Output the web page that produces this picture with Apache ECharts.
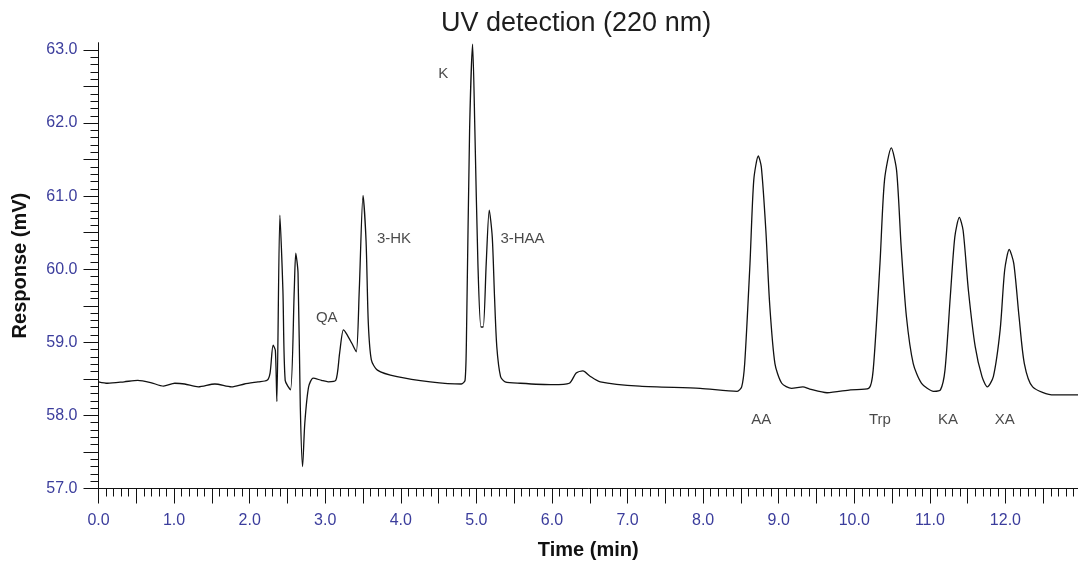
<!DOCTYPE html>
<html>
<head>
<meta charset="utf-8">
<title>UV detection (220 nm)</title>
<script src="https://cdn.jsdelivr.net/npm/echarts@6/dist/echarts.min.js"></script>
<style>
  html, body { margin: 0; padding: 0; background: #fff; }
  #chart { width: 1078px; height: 563px; }
</style>
</head>
<body>
<div id="chart"></div>
<script>
// trace: time (min), response (mV)
const times = [
  0.00, 0.12, 0.34, 0.52, 0.69, 0.86, 1.01, 1.14, 1.32, 1.54, 1.76, 1.93, 2.11, 2.23, 2.27,
  2.31, 2.34, 2.36, 2.40, 2.44, 2.47, 2.54, 2.59, 2.61, 2.64, 2.67, 2.70, 2.73, 2.78, 2.84,
  2.95, 3.04, 3.14, 3.19, 3.24, 3.28, 3.35, 3.41, 3.45, 3.50, 3.54, 3.57, 3.61, 3.69, 3.95,
  4.39, 4.80, 4.85, 4.87, 4.91, 4.95, 4.98, 5.02, 5.06, 5.09, 5.13, 5.17, 5.21, 5.24, 5.27,
  5.32, 5.38, 5.58, 6.01, 6.23, 6.32, 6.41, 6.50, 6.64, 7.16, 7.96, 8.45, 8.51, 8.55, 8.62,
  8.67, 8.73, 8.77, 8.83, 8.88, 8.95, 9.04, 9.17, 9.32, 9.41, 9.64, 9.95, 10.19, 10.25, 10.34,
  10.40, 10.49, 10.56, 10.62, 10.69, 10.78, 10.89, 11.05, 11.14, 11.20, 11.27, 11.33, 11.39, 11.44, 11.51,
  11.60, 11.69, 11.76, 11.84, 11.93, 11.99, 12.05, 12.11, 12.18, 12.25, 12.36, 12.64, 12.96
];
const response = [
  58.46, 58.44, 58.46, 58.48, 58.45, 58.40, 58.44, 58.43, 58.39, 58.43, 58.39, 58.43, 58.46, 58.48, 58.58,
  58.96, 58.89, 58.19, 60.74, 59.71, 58.48, 58.35, 59.71, 60.22, 59.95, 58.12, 57.30, 57.90, 58.39, 58.51,
  58.48, 58.46, 58.48, 58.85, 59.17, 59.12, 58.99, 58.87, 59.71, 61.01, 60.39, 59.26, 58.76, 58.62, 58.53,
  58.46, 58.43, 58.48, 59.17, 61.90, 63.08, 61.90, 60.08, 59.21, 59.21, 60.08, 60.81, 60.44, 59.62, 58.94,
  58.53, 58.46, 58.44, 58.42, 58.44, 58.58, 58.61, 58.54, 58.46, 58.40, 58.37, 58.33, 58.39, 58.71, 60.08,
  61.22, 61.55, 61.40, 60.53, 59.53, 58.71, 58.44, 58.37, 58.39, 58.36, 58.31, 58.35, 58.37, 58.62, 60.08,
  61.22, 61.66, 61.35, 60.31, 59.35, 58.71, 58.44, 58.33, 58.35, 58.62, 59.62, 60.44, 60.71, 60.53, 59.71,
  58.94, 58.53, 58.39, 58.53, 59.17, 59.99, 60.27, 60.08, 59.35, 58.71, 58.39, 58.28, 58.28
];

// peak annotations
const peakNames = ['QA', '3-HK', 'K', '3-HAA', 'AA', 'Trp', 'KA', 'XA'];
const peakLabelTime = [3.02, 3.91, 4.56, 5.61, 8.77, 10.34, 11.24, 11.99];
const peakLabelResp = [59.33, 60.42, 62.68, 60.42, 57.94, 57.94, 57.94, 57.94];

// axis ticks
const xTicks = [0, 0.5, 1, 1.5, 2, 2.5, 3, 3.5, 4, 4.5, 5, 5.5, 6, 6.5, 7, 7.5, 8, 8.5, 9, 9.5, 10, 10.5, 11, 11.5, 12, 12.5];
const xLabels = [0, 1, 2, 3, 4, 5, 6, 7, 8, 9, 10, 11, 12];
const yTicks = [57, 57.5, 58, 58.5, 59, 59.5, 60, 60.5, 61, 61.5, 62, 62.5, 63];
const yLabels = [57, 58, 59, 60, 61, 62, 63];

const FONT = '"Liberation Sans", Arial, Helvetica, sans-serif';
const TICK_BLUE = '#3b3d9c';

const chart = echarts.init(document.getElementById('chart'), null, { renderer: 'canvas' });

const axisCommon = {
  type: 'value',
  splitLine: { show: false },
  axisLine: { show: true, lineStyle: { color: '#111', width: 1 } },
  axisTick: { show: true, inside: false, length: 15, lineStyle: { color: '#111', width: 1 } },
  minorTick: { show: true, splitNumber: 5, length: 8, lineStyle: { color: '#111', width: 1 } },
  nameLocation: 'middle',
  nameTextStyle: { fontFamily: FONT, fontSize: 20, fontWeight: 'bold', color: '#111' }
};

const option = {
  animation: false,
  backgroundColor: '#fff',
  title: {
    text: 'UV detection (220 nm)',
    left: 441,
    top: 10,
    padding: 0,
    textStyle: { fontFamily: FONT, fontSize: 27, fontWeight: 'normal', color: '#1e1e1e' }
  },
  grid: { left: 98.5, right: 0, top: 42.7, bottom: 74.5, outerBoundsMode: 'none' },
  xAxis: Object.assign({}, axisCommon, {
    min: 0,
    max: 12.96,
    interval: 0.5,
    name: 'Time (min)',
    nameGap: 52,
    axisTick: Object.assign({}, axisCommon.axisTick, { customValues: xTicks }),
    axisLabel: {
      customValues: xLabels,
      margin: 24,
      fontFamily: FONT,
      fontSize: 16,
      color: TICK_BLUE,
      formatter: v => v.toFixed(1)
    }
  }),
  yAxis: Object.assign({}, axisCommon, {
    min: 57,
    max: 63.1,
    interval: 0.5,
    name: 'Response (mV)',
    nameGap: 68,
    axisTick: Object.assign({}, axisCommon.axisTick, { customValues: yTicks }),
    axisLabel: {
      customValues: yLabels,
      margin: 21,
      fontFamily: FONT,
      fontSize: 16,
      color: TICK_BLUE,
      formatter: v => v.toFixed(1)
    }
  }),
  series: [
    {
      type: 'line',
      data: times.map((t, i) => [t, response[i]]),
      showSymbol: false,
      symbol: 'none',
      smooth: 0.25,
      lineStyle: { color: '#111', width: 1.3 },
      silent: true
    },
    {
      type: 'scatter',
      symbolSize: 0,
      silent: true,
      data: peakNames.map((n, i) => ({ name: n, value: [peakLabelTime[i], peakLabelResp[i]] })),
      label: {
        show: true,
        position: 'inside',
        formatter: p => p.name,
        fontFamily: FONT,
        fontSize: 15,
        color: '#1a1a1a'
      }
    }
  ]
};

chart.setOption(option);
window.addEventListener('resize', () => chart.resize());
</script>
</body>
</html>
